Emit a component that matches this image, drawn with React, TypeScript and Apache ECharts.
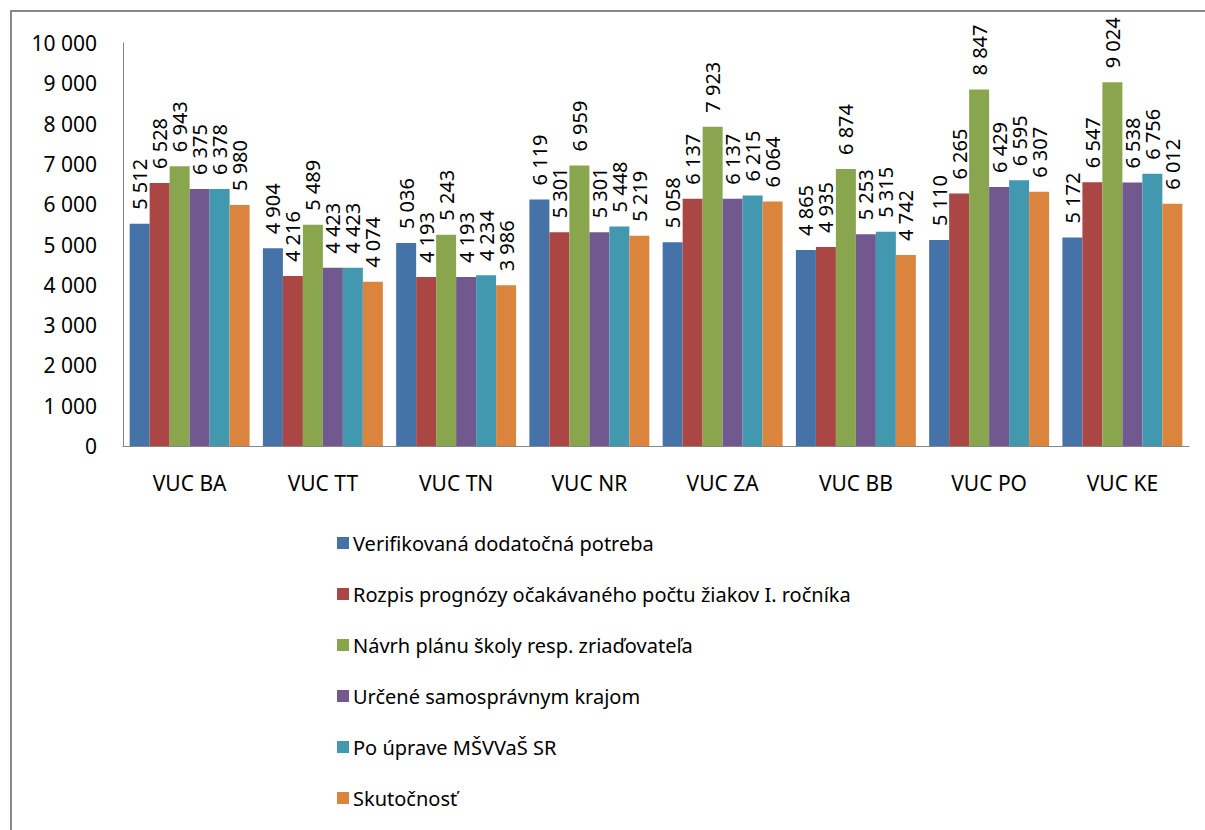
import React, { useEffect, useRef } from "react";
import * as echarts from "echarts";

const categories = ["VUC BA", "VUC TT", "VUC TN", "VUC NR", "VUC ZA", "VUC BB", "VUC PO", "VUC KE"];
const seriesNames = [
  "Verifikovaná dodatočná potreba",
  "Rozpis prognózy očakávaného počtu žiakov I. ročníka",
  "Návrh plánu školy resp. zriaďovateľa",
  "Určené samosprávnym krajom",
  "Po úprave MŠVVaŠ SR",
  "Skutočnosť",
];
const verifikovana = [5512, 4904, 5036, 6119, 5058, 4865, 5110, 5172];
const rozpis = [6528, 4216, 4193, 5301, 6137, 4935, 6265, 6547];
const navrh = [6943, 5489, 5243, 6959, 7923, 6874, 8847, 9024];
const urcene = [6375, 4423, 4193, 5301, 6137, 5253, 6429, 6538];
const poUprave = [6378, 4423, 4234, 5448, 6215, 5315, 6595, 6756];
const skutocnost = [5980, 4074, 3986, 5219, 6064, 4742, 6307, 6012];
const colors = ["#4572A7", "#AA4643", "#89A54E", "#71588F", "#4198AF", "#DB843D"];

const FONT = "'Noto Sans', 'DejaVu Sans', sans-serif";

function fmt(v: number): string {
  const n = Math.round(v);
  if (n < 1000) return String(n);
  const th = Math.floor(n / 1000);
  const rest = String(n % 1000).padStart(3, "0");
  return th + " " + rest;
}

export default function App() {
  const ref = useRef<HTMLDivElement>(null);
  useEffect(() => {
    if (!ref.current) return;
    const chart = echarts.init(ref.current, null, { renderer: "svg" });
    const allData = [verifikovana, rozpis, navrh, urcene, poUprave, skutocnost];
    chart.setOption({
      animation: false,
      color: colors,
      graphic: [
        {
          type: "rect",
          shape: { x: 11, y: 11, width: 1400, height: 1000 },
          style: { fill: "none", stroke: "#888888", lineWidth: 2 },
          silent: true,
        },
      ],
      grid: { left: 123, top: 43, right: 16, bottom: 384, containLabel: false },
      legend: {
        orient: "vertical",
        left: 332,
        top: 526,
        itemWidth: 12,
        itemHeight: 12,
        itemGap: 27,
        icon: "rect",
        data: seriesNames,
        textStyle: { fontFamily: FONT, fontSize: 20, color: "#000", lineHeight: 24, padding: [0, 0, 0, -1] },
      },
      xAxis: {
        type: "category",
        data: categories,
        axisLine: { lineStyle: { color: "#868686", width: 1 } },
        axisTick: { show: false },
        axisLabel: { fontFamily: FONT, fontSize: 21, color: "#000", margin: 26 },
      },
      yAxis: {
        type: "value",
        min: 0,
        max: 10000,
        interval: 1000,
        axisLine: { show: true, lineStyle: { color: "#868686", width: 1 } },
        axisTick: { show: false },
        splitLine: { show: false },
        axisLabel: { fontFamily: FONT, fontSize: 21, color: "#000", margin: 26, formatter: (v: number) => fmt(v) },
      },
      series: allData.map((d, i) => ({
        name: seriesNames[i],
        type: "bar",
        data: d,
        barGap: "0%",
        barCategoryGap: "10%",
        itemStyle: { color: colors[i] },
        label: {
          show: true,
          position: "top",
          rotate: 90,
          align: "left",
          verticalAlign: "middle",
          distance: 14,
          fontFamily: FONT,
          fontSize: 20,
          color: "#000",
          formatter: (p: any) => fmt(p.value),
        },
      })),
    });
    return () => chart.dispose();
  }, []);
  return (
    <div
      ref={ref}
      style={{ position: "fixed", left: 0, top: 0, width: 1205, height: 830, background: "#fff" }}
    />
  );
}
